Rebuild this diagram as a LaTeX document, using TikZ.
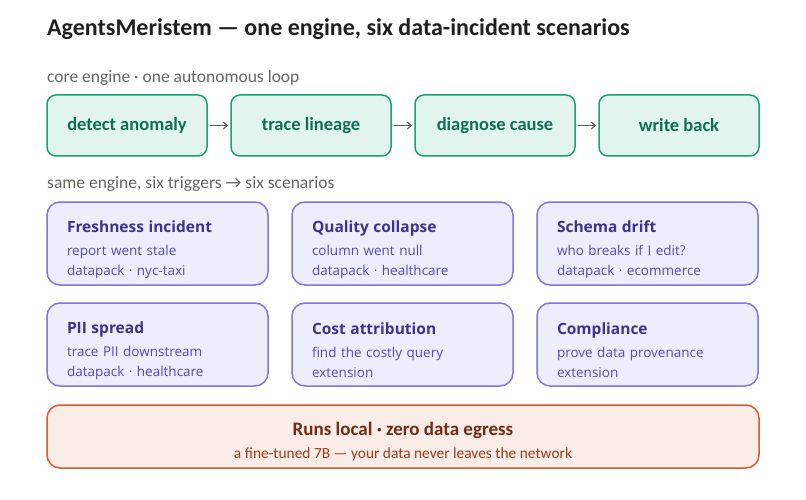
\documentclass[tikz,border=0pt]{standalone}
\usepackage{fontspec}
\setmainfont{Carlito}
\newfontfamily\cardfont{Open Sans}
\usetikzlibrary{arrows.meta,positioning}
\definecolor{engfill}{HTML}{E1F5EE}
\definecolor{engline}{HTML}{1D9E75}
\definecolor{engtext}{HTML}{0F6E56}
\definecolor{scnfill}{HTML}{EEEDFE}
\definecolor{scnline}{HTML}{7F77DD}
\definecolor{scnhead}{HTML}{3C3489}
\definecolor{scntext}{HTML}{534AB7}
\definecolor{locfill}{HTML}{FAECE7}
\definecolor{locline}{HTML}{D85A30}
\definecolor{lochead}{HTML}{712B13}
\definecolor{loctext}{HTML}{993C1D}
\definecolor{capgray}{HTML}{66655F}
\newcommand{\fsz}[2][20]{\fontsize{#2}{#1}\selectfont}
\newcommand{\scn}[3]{{\color{scnhead}\fsz{15.5}\bfseries\rule{0pt}{24pt}#1}\\[3pt]#2\\#3}

\begin{document}
\begin{tikzpicture}[
  x=1pt, y=-1pt,
  node distance=18pt and 24pt,
  ttl/.style={inner sep=0pt, font=\fsz{24}\bfseries, text=black!88},
  lbl/.style={inner sep=0pt, font=\fsz{17.5}, text=capgray},
  eng/.style={draw=engline, fill=engfill, line width=1.5pt, rounded corners=9pt, outer sep=0pt,
    minimum width=160pt, minimum height=61pt, text=engtext, font=\fsz{18.5}\bfseries},
  card/.style={draw=scnline, fill=scnfill, line width=1.5pt, rounded corners=13pt, outer sep=0pt,
    text width=181pt, inner xsep=20pt, minimum height=83pt, align=left,
    text=scntext, font=\cardfont\fsz{13.5}},
  local/.style={draw=locline, fill=locfill, line width=1.5pt, rounded corners=13pt,
    minimum width=712pt, minimum height=63pt, align=center, font=\fsz{15.4}},
  arr/.style={-{Straight Barb[length=4pt,width=7pt]}, line width=1pt, draw=black!65,
    shorten <=2.5pt, shorten >=3pt},
]
  \useasboundingbox (0,0) rectangle (806,500);

  \node[ttl, anchor=base west] (title) at (47,36)
    {AgentsMeristem — one engine, six data-incident scenarios};

  % core engine
  \node[lbl, anchor=base west] (corelbl) at (47,83) {core engine · one autonomous loop};
  \node[eng] (detect) at (127,125.5) {detect anomaly};
  \node[eng, right=of detect] (trace) {trace lineage};
  \node[eng, right=of trace] (diagnose) {diagnose cause};
  \node[eng, right=of diagnose] (writeback) {write back};

  \draw[arr] (detect) -- (trace);
  \draw[arr] (trace) -- (diagnose);
  \draw[arr] (diagnose) -- (writeback);

  % scenarios
  \node[lbl, anchor=base west] (scnlbl) at (47,189) {same engine, six triggers → six scenarios};
  \node[card] (fresh) at (157.5,243.5)
    {\scn{Freshness incident}{report went stale}{datapack · nyc-taxi}};
  \node[card, right=of fresh] (quality)
    {\scn{Quality collapse}{column went null}{datapack · healthcare}};
  \node[card, right=of quality] (schema)
    {\scn{Schema drift}{who breaks if I edit?}{datapack · ecommerce}};
  \node[card, below=of fresh] (pii)
    {\scn{PII spread}{trace PII downstream}{datapack · healthcare}};
  \node[card, right=of pii] (cost)
    {\scn{Cost attribution}{find the costly query}{extension}};
  \node[card, right=of cost] (comply)
    {\scn{Compliance}{prove data provenance}{extension}};

  % local runtime
  \node[local] (local) at (403,436.5)
    {{\color{lochead}\fsz{19}\bfseries\rule{0pt}{24pt}Runs local · zero data egress}\\[3pt]
     {\color{loctext}a fine-tuned 7B — your data never leaves the network}};
\end{tikzpicture}
\end{document}
